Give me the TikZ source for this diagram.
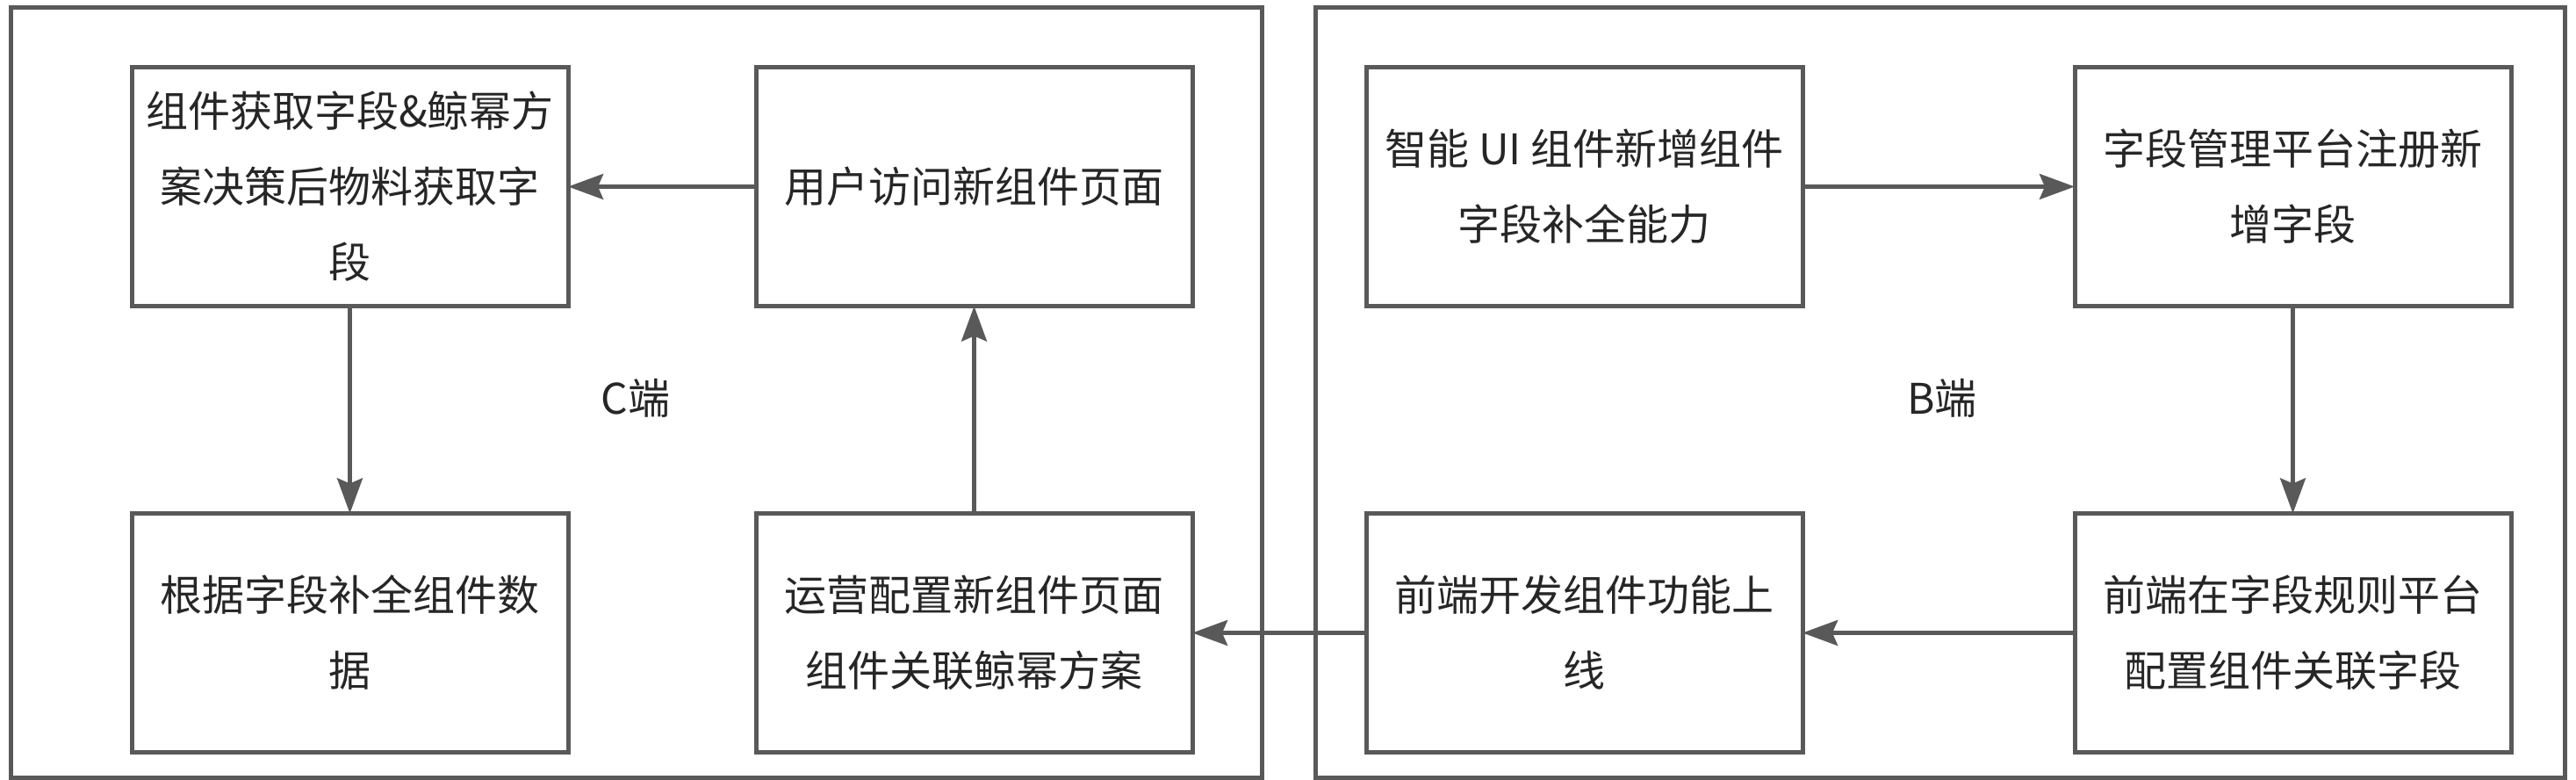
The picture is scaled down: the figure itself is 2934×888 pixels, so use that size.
\documentclass[tikz,border=0pt]{standalone}
\usepackage{fontspec}
\setmainfont{Noto Sans CJK SC}
\usetikzlibrary{arrows.meta, graphs, positioning}

\definecolor{linegray}{HTML}{595959}
\definecolor{textgray}{HTML}{262626}

\tikzset{
    stepbox/.style={draw=linegray, line width=1.25pt, minimum width=124.25pt, minimum height=68pt,
        inner sep=0pt, outer sep=0pt, align=center, text=textgray,
        font=\fontsize{12pt}{21.5pt}\selectfont},
    sidelabel/.style={text=textgray, font=\fontsize{12pt}{14pt}\selectfont},
    sideframe/.style={draw=linegray, line width=1.25pt},
}

\begin{document}
\begin{tikzpicture}[x=0.25pt, y=-0.25pt, >={Stealth[length=10pt, width=7.2pt, inset=1.5pt]}]
    \useasboundingbox (0,0) rectangle (2934,888);

    % C side and B side frames
    \draw[sideframe] (12,9) rectangle (1437,885);
    \draw[sideframe] (1498,9) rectangle (2921,885);

    \node[stepbox] (Fetch Field) at (398.5,212.5) {组件获取字段\&鲸幂方\\案决策后物料获取字\\段};
    \node[stepbox, right=53.5pt of Fetch Field]    (Visit Page)     {用户访问新组件页面};
    \node[stepbox, right=49.5pt of Visit Page]     (Add Ability)    {智能 UI 组件新增组件\\字段补全能力};
    \node[stepbox, right=77.5pt of Add Ability]    (Register Field) {字段管理平台注册新\\增字段};
    \node[stepbox, below=59pt of Fetch Field]      (Fill Data)      {根据字段补全组件数\\据};
    \node[stepbox, below=59pt of Visit Page]       (Config Page)    {运营配置新组件页面\\组件关联鲸幂方案};
    \node[stepbox, below=59pt of Add Ability]      (Develop)        {前端开发组件功能上\\线};
    \node[stepbox, below=59pt of Register Field]   (Config Rule)    {前端在字段规则平台\\配置组件关联字段};

    \node[sidelabel] (C Side) at (724,453)  {C端};
    \node[sidelabel] (B Side) at (2212,453) {B端};

    \graph[edges={draw=linegray, line width=1.25pt}]{
        (Add Ability) -> (Register Field) -> (Config Rule) -> (Develop) -> (Config Page) -> (Visit Page) -> (Fetch Field) -> (Fill Data);
    };
\end{tikzpicture}
\end{document}
